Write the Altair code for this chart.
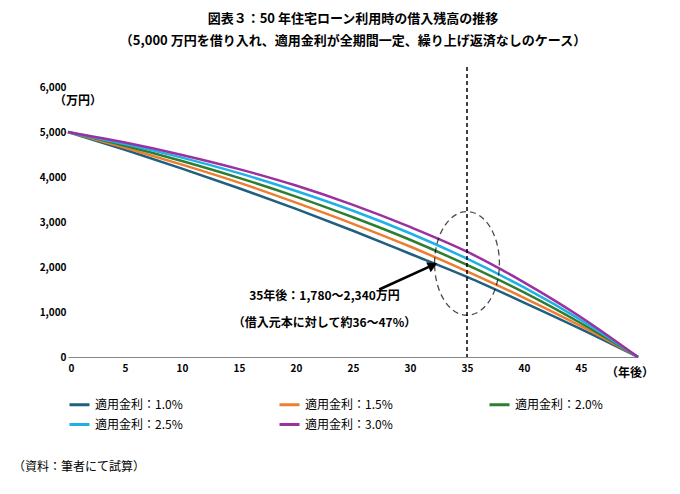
import altair as alt
import pandas as pd

years = [0, 5, 10, 15, 20, 25, 30, 35, 40, 45, 50]
rate_labels = ["適用金利：1.0%", "適用金利：1.5%", "適用金利：2.0%", "適用金利：2.5%", "適用金利：3.0%"]
bal_10 = [5000, 4605, 4185, 3750, 3290, 2805, 2295, 1780, 1210, 620, 0]
bal_15 = [5000, 4650, 4275, 3875, 3430, 2960, 2455, 1905, 1315, 685, 0]
bal_20 = [5000, 4695, 4355, 3980, 3565, 3105, 2605, 2045, 1435, 750, 0]
bal_25 = [5000, 4730, 4430, 4085, 3690, 3250, 2750, 2185, 1545, 820, 0]
bal_30 = [5000, 4765, 4490, 4175, 3810, 3380, 2890, 2340, 1660, 885, 0]
colors = ["#1f5f7f", "#ed7d31", "#2e7d32", "#1fb0e8", "#9b30a0"]

rows = []
for lab, vals in zip(rate_labels, [bal_10, bal_15, bal_20, bal_25, bal_30]):
    for y, v in zip(years, vals):
        rows.append({"year": y, "balance": v, "rate": lab})
df = pd.DataFrame(rows)

F = "Noto Sans CJK JP"
W, H = 570, 270

x = alt.X("year:Q", scale=alt.Scale(domain=[0, 50], nice=False),
          axis=alt.Axis(values=list(range(0, 50, 5)), title=None, grid=False, labelFontWeight="bold", tickSize=0, labelPadding=6))
y = alt.Y("balance:Q", scale=alt.Scale(domain=[0, 6000]),
          axis=alt.Axis(values=list(range(0, 6001, 1000)), format=",.0f", title=None, grid=False, labelFontWeight="bold", tickSize=0, domain=False))

lines = alt.Chart(df).mark_line(strokeWidth=2.5, interpolate="monotone").encode(
    x=x, y=y,
    color=alt.Color("rate:N", scale=alt.Scale(domain=rate_labels, range=colors),
                    legend=alt.Legend(orient="bottom", direction="horizontal", columns=3, title=None,
                                      symbolType="stroke", symbolStrokeWidth=3, symbolSize=400,
                                      labelFontSize=12, columnPadding=90, labelLimit=200, offset=20)),
)

vline = alt.Chart(pd.DataFrame({"year": [35]})).mark_rule(strokeDash=[4, 3], color="black", strokeWidth=1.5).encode(
    x="year:Q", y=alt.value(-20), y2=alt.value(H))

ell = alt.Chart(pd.DataFrame({"year": [35], "balance": [2080]})).mark_point(
    shape="M-1,0A1,1.6 0 1,1 1,0A1,1.6 0 1,1 -1,0", size=4200, strokeDash=[6, 4],
    color="black", strokeWidth=1.3, filled=False).encode(x="year:Q", y="balance:Q")

arrow = alt.Chart(pd.DataFrame({"year": [27.3, 31.8], "balance": [1500, 2020]})).mark_line(
    color="black", strokeWidth=2.5).encode(x="year:Q", y="balance:Q")
head = alt.Chart(pd.DataFrame({"year": [32.0], "balance": [2040]})).mark_point(
    shape="triangle-up", angle=66, size=120, filled=True, color="black", opacity=1).encode(x="year:Q", y="balance:Q")

notes = alt.Chart(pd.DataFrame({"year": [22.5, 22.5], "balance": [1350, 750],
                                "t": ["35年後：1,780～2,340万円", "（借入元本に対して約36～47%）"]})).mark_text(
    font=F, fontWeight="bold", fontSize=12).encode(x="year:Q", y="balance:Q", text="t:N")

unit_y = alt.Chart(pd.DataFrame({"t": ["（万円）"]})).mark_text(font=F, fontWeight="bold", fontSize=12, align="left").encode(
    x=alt.value(-14), y=alt.value(14), text="t:N")
unit_x = alt.Chart(pd.DataFrame({"t": ["（年後）"]})).mark_text(font=F, fontWeight="bold", fontSize=12, align="left").encode(
    x=alt.value(W - 32), y=alt.value(H + 16), text="t:N")
foot = alt.Chart(pd.DataFrame({"t": ["（資料：筆者にて試算）"]})).mark_text(font=F, fontSize=12, align="left").encode(
    x=alt.value(-55), y=alt.value(H + 110), text="t:N")

chart = alt.layer(lines, vline, ell, arrow, head, notes, unit_y, unit_x, foot).properties(
    width=W, height=H,
    title=alt.Title(["図表３：50 年住宅ローン利用時の借入残高の推移",
                     "（5,000 万円を借り入れ、適用金利が全期間一定、繰り上げ返済なしのケース）"],
                    font=F, fontSize=13, fontWeight="bold", anchor="middle", offset=18, lineHeight=22),
).configure_view(stroke=None).configure_axis(labelFont=F, labelFontSize=10).configure_legend(labelFont=F)

chart.save("out.html", embed_options={"renderer": "svg", "actions": False})
